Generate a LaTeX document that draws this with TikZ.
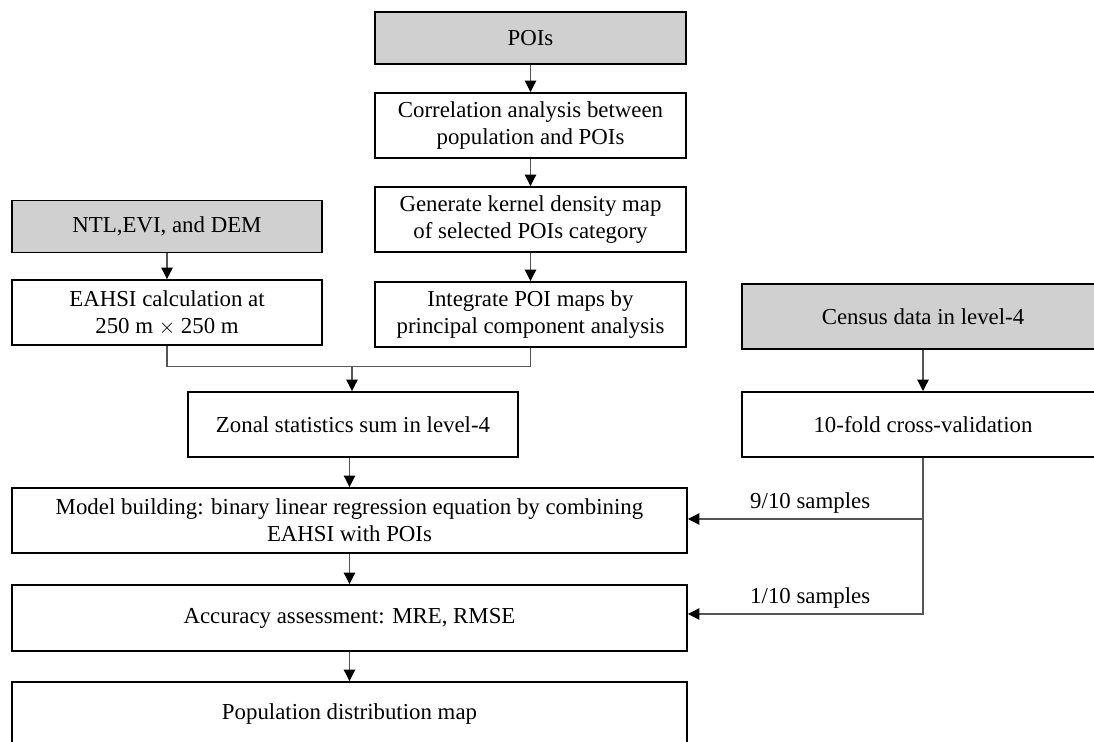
\documentclass[tikz,border=0pt]{standalone}
\usepackage{fontspec}
\setmainfont{Liberation Serif}
\usepackage{xcolor}
\usepackage{tikz}
\usetikzlibrary{arrows.meta,positioning,calc}
\definecolor{datafill}{HTML}{D0D0D0}
\definecolor{linkline}{HTML}{555555}

\begin{document}
\begin{tikzpicture}[
  font=\fontsize{13pt}{15.4pt}\selectfont,
  box/.style={rectangle,draw=black,line width=1.1pt,fill=white,
              minimum height=1.3cm,align=center,inner sep=2pt},
  src/.style={box,fill=datafill,minimum height=1.04cm},
  arr/.style={-{Triangle[length=2.3mm,width=2.3mm,color=black]},draw=linkline,line width=0.7pt},
  link/.style={draw=linkline,line width=0.7pt},
  lbl/.style={above,inner sep=3pt}
]
\clip (0,0) rectangle (21.88,14.84);

% --- POI branch
\node[src,minimum width=6.22cm] (poi)  at (10.61,14.08) {POIs};
\node[box,minimum width=6.22cm] (corr) at (10.61,12.33) {Correlation analysis between\\population and POIs};
\node[box,minimum width=6.22cm] (kde)  at (10.61,10.45) {Generate kernel density map\\of selected POIs category};
\node[box,minimum width=6.22cm] (pca)  at (10.61,8.55)  {Integrate POI maps by\\principal component analysis};

% --- remote sensing branch
\node[src,minimum width=6.2cm] (rs)    at (3.34,10.31) {NTL,EVI, and DEM};
\node[box,minimum width=6.2cm] (eahsi) at (3.34,8.59)  {EAHSI calculation at\\250 m $\times$ 250 m};

% --- census branch
\node[src,minimum width=7.24cm,minimum height=1.3cm] (census) at (18.46,8.51) {Census data in level-4};
\node[box,minimum width=7.24cm] (cv) at (18.46,6.35) {10-fold cross-validation};

% --- model chain
\node[box,minimum width=6.6cm]  (zonal) at (7.06,6.35) {Zonal statistics sum in level-4};
\node[box,minimum width=13.5cm] (model) at (6.99,4.43) {Model building: binary linear regression equation by combining\\EAHSI with POIs};
\node[box,minimum width=13.5cm,minimum height=1.32cm] (acc) at (6.99,2.48) {Accuracy assessment: MRE, RMSE};
\node[box,minimum width=13.5cm] (popmap) at (6.99,0.55) {Population distribution map};

\coordinate (join) at (7.04,7.51);

\draw[arr] (poi) -- (corr);
\draw[arr] (corr) -- (kde);
\draw[arr] (kde) -- (pca);
\draw[arr] (rs) -- (eahsi);
\draw[arr] (census) -- (cv);

\draw[link] (eahsi.south) |- (join) -| (pca.south);
\draw[arr] (join) -- (join |- zonal.north);
\draw[arr] (zonal.south -| model.north) -- (model.north);
\draw[arr] (model) -- (acc);
\draw[arr] (acc) -- (popmap);

\draw[arr] (cv.south) |- node[lbl,pos=0.74]{9/10 samples} ($(model.east)+(0,0.03)$);
\draw[arr] (cv.south) |- node[lbl,pos=0.74]{1/10 samples} ($(acc.east)+(0,0.08)$);
\end{tikzpicture}
\end{document}
